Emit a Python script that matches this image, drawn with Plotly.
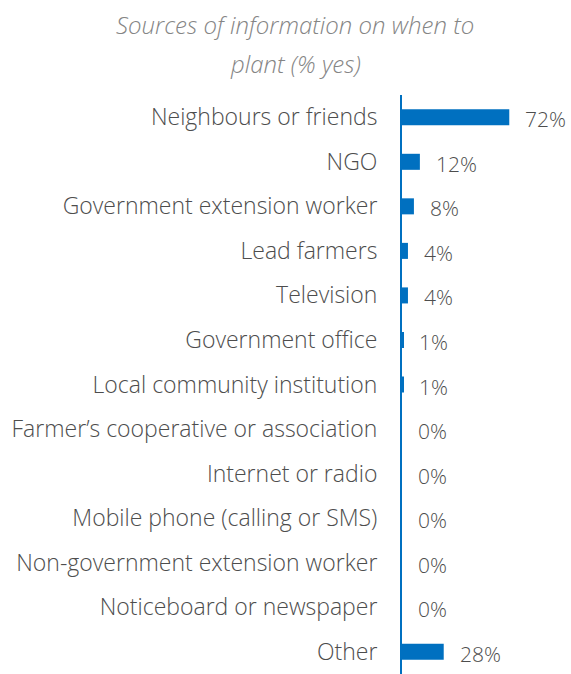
import plotly.graph_objects as go

categories = [
    "Neighbours or friends",
    "NGO",
    "Government extension worker",
    "Lead farmers",
    "Television",
    "Government office",
    "Local community institution",
    "Farmer\u2019s cooperative or association",
    "Internet or radio",
    "Mobile phone (calling or SMS)",
    "Non-government extension worker",
    "Noticeboard or newspaper",
    "Other",
]
values = [72, 12, 8, 4, 4, 1, 1, 0, 0, 0, 0, 0, 28]
value_labels = ["72%", "12%", "8%", "4%", "4%", "1%", "1%", "0%", "0%", "0%", "0%", "0%", "28%"]

BAR = "#0070C0"
TEXT = "#4D4D4D"
TITLE = "#858585"
FONT = "Open Sans"

W, H = 571, 674
M_TOP, M_BOT, M_LEFT, M_RIGHT = 95, 0, 402, 20
plot_h = H - M_TOP - M_BOT

fig = go.Figure(
    go.Bar(
        x=values,
        y=categories,
        orientation="h",
        marker=dict(color=BAR, line=dict(width=0)),
        hoverinfo="skip",
    )
)

# value labels to the right of each bar
for cat, v, lab in zip(categories, values, value_labels):
    fig.add_annotation(
        x=v, y=cat, text=lab, showarrow=False,
        xanchor="left", yanchor="middle", xshift=14, yshift=-2,
        font=dict(family=FONT, size=21, color=TEXT, weight=300),
    )

# two-line title
for text, py in [("Sources of information on when to", 24), ("plant (% yes)", 63)]:
    fig.add_annotation(
        xref="paper", yref="paper",
        x=(295 - M_LEFT) / (W - M_LEFT - M_RIGHT), y=1 + (M_TOP - py) / plot_h,
        text=f"<i>{text}</i>", showarrow=False,
        xanchor="center", yanchor="middle",
        font=dict(family=FONT, size=24, color=TITLE, weight=300),
    )

fig.update_layout(
    width=W, height=H,
    margin=dict(l=M_LEFT, r=M_RIGHT, t=M_TOP, b=M_BOT),
    paper_bgcolor="white", plot_bgcolor="white",
    bargap=0.64,
    showlegend=False,
    font=dict(family=FONT, size=23, color=TEXT),
)
fig.update_xaxes(range=[0, 100], visible=False, fixedrange=True)
fig.update_yaxes(
    autorange="reversed",
    showline=True, linecolor=BAR, linewidth=2,
    showgrid=False, zeroline=False,
    ticks="", ticklabelstandoff=18,
    tickfont=dict(family=FONT, size=23, color=TEXT, weight=300),
    fixedrange=True,
)

fig.write_html("out.html")
